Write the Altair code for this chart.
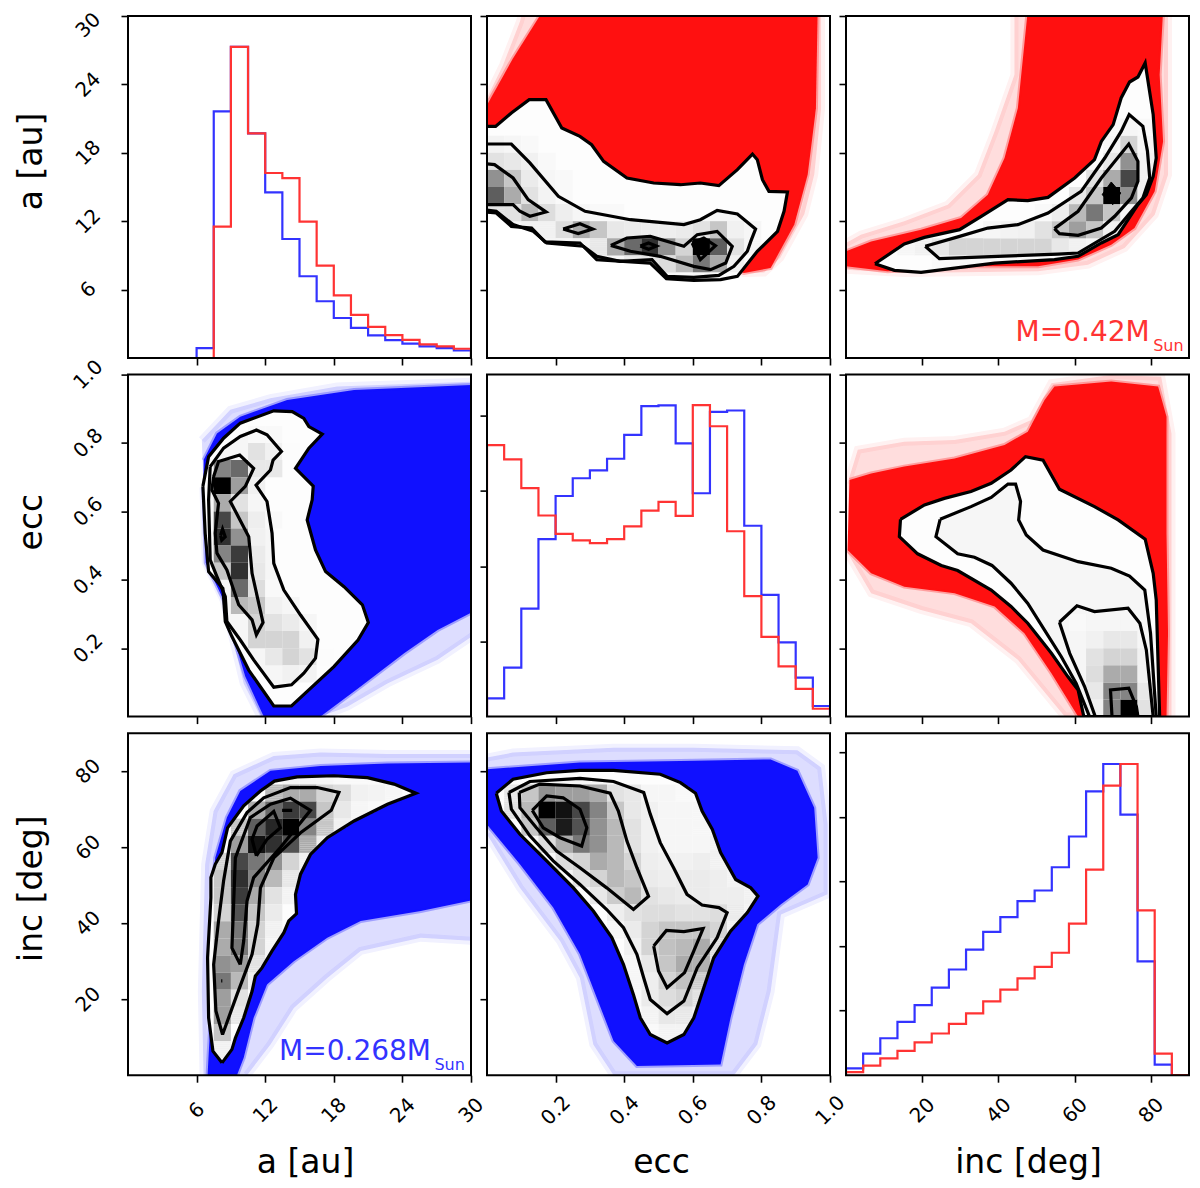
import altair as alt
import pandas as pd

BLUE = "#1010ff"
RED = "#ff1010"
LBLUE = "#3333ff"
LRED = "#ff3333"
FONT = "DejaVu Sans"
W, H = 343, 342

A_DOM = [0, 30]
E_DOM = [0, 1]
I_DOM = [0, 90]
A_TICKS = [6, 12, 18, 24, 30]
E_TICKS = [0.2, 0.4, 0.6, 0.8, 1.0]
I_TICKS = [20, 40, 60, 80]

# ---- histograms (20 bins, normalised height) ----
hist_a_blue = [0, 0, 0, 0, .029, .721, .91, .657, .484, .348, .239, .166, .117, .088, .066, .052, .042, .034, .029, .022]
hist_a_red = [0, 0, 0, 0, 0, .384, .91, .657, .541, .526, .399, .27, .183, .126, .091, .067, .053, .04, .034, .027]
hist_e_blue = [.053, .143, .316, .519, .645, .697, .72, .754, .824, .908, .91, .799, .653, .891, .895, .558, .356, .217, .114, .031]
hist_e_red = [.794, .752, .668, .588, .534, .515, .507, .519, .556, .602, .628, .587, .911, .849, .542, .352, .233, .147, .081, .023]
hist_i_blue = [.02, .063, .108, .156, .205, .256, .309, .367, .419, .462, .509, .54, .608, .698, .83, .91, .762, .333, .031, 0]
hist_i_red = [.009, .028, .049, .071, .096, .122, .15, .181, .216, .25, .283, .317, .358, .443, .601, .847, .91, .482, .063, 0]

# ---- a / inc (blue) ----
ai_fringe = [(6.61, 0), (6.46, 22.1), (6.75, 55.5), (7.49, 69.5), (9.24, 79.2), (12.75, 84), (16.84, 84.9), (22.69, 84.5), (30.5, 84.5), (30.5, 35.3), (25.61, 36.2), (20.35, 32.7), (17.43, 25.6), (14.5, 17.7), (12.46, 8.1), (10.41, 0)]
ai_core = [(6.96, 0), (7.19, 13.3), (7.05, 30.9), (7.63, 57.2), (8.65, 67.8), (9.82, 74.8), (12.46, 80.1), (16.84, 81.4), (22.69, 82), (30.5, 82.3), (30.5, 46.3), (25.61, 43.2), (20.35, 40.6), (17.43, 36.2), (14.5, 30), (12.16, 23.9), (10.99, 15.1), (10.12, 4.6), (9.53, 0)]
ai_c1 = [(8.22, 3.25), (7.43, 6.32), (7.05, 15.1), (6.96, 30.9), (7.25, 46.7), (7.25, 52), (7.63, 55.5), (8.22, 58.6), (8.71, 65.1), (10.12, 70.9), (11.58, 74.8), (12.81, 77.4), (14.8, 78.5), (18.01, 78.8), (20.94, 78.3), (23.27, 76.6), (25.18, 74.2), (22.69, 71.3), (19.77, 66.9), (17.43, 62.5), (15.96, 58.1), (15.09, 52.9), (14.65, 47.6), (14.74, 42.5), (14.06, 40.6), (13.63, 37.5), (12.6, 32.7), (11.73, 28.3), (11.14, 26.1), (10.85, 22.1), (10.12, 15.1), (9.39, 9.8), (9.09, 6.8), (8.22, 3.25)]
ai_c2 = [(8.27, 10.7), (7.69, 16.9), (7.49, 29.1), (7.92, 40.6), (8.36, 51.1), (8.95, 61.6), (10.41, 69.1), (11.87, 73), (14.21, 75.7), (16.55, 75.7), (18.45, 74.4), (17.78, 69.7), (15.09, 63.8), (12.75, 57.2), (11.58, 49.3), (11.35, 39.7), (10.85, 31.8), (9.53, 21.2), (8.27, 10.7)]
ai_c3 = [(9.82, 29.1), (9.09, 33.5), (9.39, 57.2), (10.7, 67.8), (12.46, 71.3), (14.21, 72.9), (15.96, 69.7), (13.33, 59.9), (10.99, 52), (10.41, 45.8), (10.12, 35.3), (9.82, 29.1)]
ai_c4 = [(11.23, 57.7), (10.85, 62.1), (11.29, 65.6), (12.75, 69.4), (13.33, 65.1), (12.16, 62.1), (11.23, 57.7)]
ai_c5 = [(13.48, 69.7), (14.36, 69.7), (13.48, 69.7)]
ai_c6 = [(8.15, 24.8), (8.25, 24.8), (8.15, 24.8)]
ai_cells = [
    (17, 9, [.03, .03, .03, .02, .02, .02]),
    (16, 8, [.25, .3, .3, .15, .12, .05, .04, .03]),
    (15, 7, [.3, .55, .75, .7, .2, .08, .03, .02]),
    (14, 6, [.2, .6, .85, 1.0, .45, .2, .05]),
    (13, 6, [.35, .95, .8, .65, .3, .06]),
    (12, 5, [.15, .7, .5, .4, .15, .05]),
    (11, 5, [.2, .8, .45, .25, .08]),
    (10, 5, [.2, .75, .3, .1, .04]),
    (9, 5, [.15, .65, .2, .07]),
    (8, 5, [.3, .5, .15, .05]),
    (7, 5, [.3, .5, .15, .03]),
    (6, 5, [.4, .35, .1]),
    (5, 5, [.5, .25, .05]),
    (4, 5, [.35, .1]),
    (3, 5, [.35, .08]),
    (2, 5, [.2]),
    (1, 5, [.05]),
]

# ---- ecc / inc (blue) ----
ei_fringe = [(0, 83.6), (.076, 84.9), (.369, 86.2), (.603, 86.2), (.905, 85.5), (.974, 81), (.993, 66), (.993, 47.6), (.857, 42.3), (.827, 22.1), (.788, 8.1), (.72, 0), (.369, 0), (.31, 8.1), (.271, 25.6), (.213, 35.3), (.096, 49.3), (0, 63.4)]
ei_core = [(0, 80.5), (.271, 82.3), (.564, 82.7), (.827, 83.1), (.905, 80.1), (.954, 70.4), (.964, 57.2), (.935, 50.2), (.857, 45), (.788, 39.7), (.749, 29.1), (.71, 15.1), (.681, 2.8), (.437, 2.4), (.369, 9), (.32, 20.4), (.271, 31.8), (.193, 44.1), (.096, 55.5), (0, 66)]
ei_c1 = [(.027, 74.2), (.076, 77.9), (.174, 79.6), (.271, 80.2), (.369, 80.2), (.505, 79.2), (.564, 77), (.608, 74.2), (.627, 69.5), (.657, 64.7), (.681, 58.6), (.725, 51.5), (.769, 49.3), (.79, 47.1), (.759, 42.8), (.71, 37.9), (.661, 30.9), (.632, 23), (.603, 15.1), (.574, 10.7), (.525, 8.5), (.476, 10.7), (.447, 15.1), (.427, 21.2), (.398, 29.1), (.364, 36.2), (.31, 43.2), (.252, 49.3), (.174, 56.4), (.096, 63.4), (.042, 69.5), (.027, 74.2)]
ei_c2 = [(.064, 74.4), (.125, 77.3), (.271, 78.1), (.369, 77.3), (.457, 74.4), (.476, 68.7), (.505, 61.2), (.544, 54.6), (.583, 47.6), (.627, 44.8), (.676, 44.1), (.7, 42.8), (.671, 36.2), (.613, 28.3), (.574, 19.5), (.525, 16.2), (.476, 19.9), (.457, 25.6), (.437, 31.8), (.398, 38.8), (.349, 43.6), (.271, 50.2), (.193, 56.4), (.125, 63), (.071, 70), (.064, 74.4)]
ei_c3 = [(.094, 74.4), (.154, 76.6), (.271, 76.1), (.359, 74.2), (.383, 69.5), (.408, 61.6), (.437, 54.6), (.471, 47.1), (.427, 43.6), (.349, 49.3), (.271, 54.6), (.203, 59), (.144, 65.1), (.096, 70.4), (.094, 74.4)]
ei_c4 = [(.132, 69.7), (.174, 73.5), (.222, 73), (.271, 70), (.291, 65.1), (.276, 60.3), (.213, 62.5), (.164, 65.1), (.132, 69.7)]
ei_c5 = [(.486, 34), (.523, 38.1), (.574, 37.8), (.63, 38.6), (.603, 32.7), (.576, 27), (.525, 23), (.5, 27.4), (.486, 34)]
ei_cells = [
    (16, 1, [.08, .2, .4, .35, .35, .3, .1, .08, .03, .03, .02]),
    (15, 1, [.1, .25, 1.0, .95, .7, .45, .2, .08, .05, .03, .03, .03]),
    (14, 2, [.2, .6, .9, .65, .4, .25, .1, .05, .03, .03, .03, .03]),
    (13, 3, [.12, .3, .5, .4, .25, .1, .05, .03, .03, .03, .05]),
    (12, 4, [.12, .15, .3, .25, .15, .06, .05, .05, .06, .05, .04]),
    (11, 5, [.1, .15, .25, .2, .07, .06, .07, .07, .06, .04, .03]),
    (10, 6, [.08, .18, .25, .1, .08, .07, .07, .06, .06, .05]),
    (9, 7, [.06, .1, .12, .12, .1, .1, .12, .07, .04]),
    (8, 7, [.03, .07, .15, .2, .2, .2, .15, .05]),
    (7, 8, [.05, .15, .22, .25, .3, .12]),
    (6, 8, [.03, .08, .2, .3, .28, .1]),
    (5, 8, [.03, .06, .15, .22, .18, .04]),
    (4, 8, [.02, .07, .12, .15, .1, .02]),
    (3, 9, [.04, .08, .08, .04]),
    (2, 9, [.02, .04, .04, .02]),
]

# ---- a / ecc (blue) ----
ae_fringe = [(6.46, .809), (8.95, .897), (12.46, .931), (18.3, .965), (30.5, .98), (30.5, .244), (27.08, .166), (22.69, .097), (19.18, .029), (16.84, 0), (11.58, 0), (10.12, .097), (8.36, .341), (6.8, .45), (6.6, .67)]
ae_core = [(6.61, .75), (7.78, .828), (9.82, .877), (13.92, .926), (19.77, .955), (30.5, .97), (30.5, .312), (27.08, .253), (24.15, .185), (20.35, .088), (16.84, 0), (11.87, 0), (10.26, .117), (9.39, .214), (8.36, .341), (6.8, .45), (6.6, .67)]
ae_c1 = [(6.55, .674), (7.05, .76), (8.36, .814), (9.82, .858), (12.75, .894), (14.36, .892), (15.38, .872), (15.82, .848), (16.99, .826), (15.82, .785), (14.65, .726), (16.2, .674), (16.11, .634), (15.67, .575), (16.4, .487), (17.28, .424), (18.89, .38), (20.5, .327), (21.02, .275), (20.12, .224), (18.01, .146), (14.3, .031), (12.75, .031), (10.56, .136), (9.09, .234), (8.51, .278), (8.3, .375), (7.05, .424), (6.75, .536), (6.55, .674)]
ae_c2 = [(7.19, .731), (8.36, .785), (9.82, .819), (11.23, .838), (12.16, .824), (13.42, .775), (12.69, .75), (12.46, .721), (11.2, .677), (12.16, .629), (12.6, .536), (12.75, .448), (13.63, .37), (15.09, .297), (16.61, .226), (16.4, .171), (15.38, .127), (14.3, .093), (12.75, .086), (10.99, .166), (9.82, .224), (8.65, .278), (8.51, .351), (7.78, .409), (7.19, .458), (7.05, .634), (7.19, .731)]
ae_c3 = [(7.49, .702), (7.92, .746), (9.77, .765), (10.99, .726), (10.26, .673), (8.95, .629), (10.56, .526), (10.85, .419), (11.81, .275), (11.23, .239), (10.85, .283), (9.68, .327), (8.65, .429), (7.78, .478), (7.63, .536), (7.92, .624), (7.34, .663), (7.49, .702)]
ae_c4 = [(8.1, .53), (8.27, .548), (8.5, .526), (8.2, .516), (8.1, .53)]
ae_cells = [
    (16, 7, [.02, .02]),
    (15, 7, [.1, .05, .01]),
    (14, 5, [.45, .55, .08, .08]),
    (13, 5, [1.0, .35, .05]),
    (12, 5, [.3, .1, .03]),
    (11, 5, [.7, .2, .06, .02]),
    (10, 5, [.8, .4, .05]),
    (9, 5, [.45, .75, .07]),
    (8, 5, [.2, .8, .08]),
    (7, 6, [.55, .12, .02]),
    (6, 6, [.25, .2, .05, .03]),
    (5, 7, [.15, .1, .07, .03]),
    (4, 7, [.15, .15, .15, .05]),
    (3, 8, [.08, .15, .1, .01]),
    (2, 9, [.05, .04]),
]

# ---- inc / ecc (red) ----
ie_fringe = [(.4, .682), (3.1, .78), (15.3, .804), (28.5, .809), (41.6, .833), (48.6, .867), (53.9, .975), (69.6, .999), (82.7, .994), (85.4, .828), (85.4, .244), (85.4, 0), (57.4, 0), (45.1, .166), (32.8, .273), (19.7, .312), (6.6, .361), (.4, .478)]
ie_core = [(.9, .692), (6.6, .711), (15.3, .731), (28.5, .755), (41.6, .794), (47.7, .833), (52.1, .926), (54.7, .965), (69.6, .98), (81.9, .965), (84.1, .877), (84.1, .536), (84.5, .244), (84.1, 0), (60.9, 0), (53.9, .127), (46.8, .244), (39, .322), (28.5, .361), (15.3, .38), (6.6, .419), (.4, .487)]
ie_c1 = [(14.3, .577), (14, .526), (18.8, .476), (25, .442), (29.3, .427), (38.1, .37), (43.3, .322), (47.7, .273), (53.9, .185), (58.2, .117), (60.9, .078), (62.4, 0), (82.3, 0), (81.4, .341), (80.6, .419), (78.5, .519), (71.4, .575), (65.2, .614), (56, .665), (51.7, .75), (47.1, .76), (43.3, .721), (38.1, .682), (32.8, .658), (25.8, .638), (20.6, .619), (14.3, .577)]
ie_c2 = [(24.7, .577), (23.6, .526), (29.3, .476), (33.7, .466), (38.3, .442), (43.3, .39), (47.7, .331), (52.1, .253), (56.5, .175), (60.4, .097), (63.9, 0), (81.4, 0), (79.9, .244), (78.4, .37), (74.4, .411), (69.6, .434), (60.9, .453), (51.7, .487), (47.3, .531), (45.3, .575), (45.8, .629), (44.5, .68), (42.5, .68), (38.1, .641), (32.8, .614), (24.7, .577)]
ie_c3 = [(56, .276), (60.6, .324), (65.2, .307), (74, .317), (77.1, .273), (78.8, .195), (80.6, 0), (65.4, 0), (62.6, .088), (58.7, .185), (56, .276)]
ie_c4 = [(69.8, 0), (69.4, .078), (74.2, .083), (76.2, .029), (76.6, 0)]
ie_cells = [
    (0, 13, [.03, .05, .45, 1.0, .1]),
    (1, 13, [.03, .08, .45, .45, .08]),
    (2, 13, [.03, .12, .3, .3, .05]),
    (3, 13, [.03, .1, .15, .15, .05]),
    (4, 13, [.03, .05, .08, .08, .03]),
    (5, 13, [.02, .03, .03, .03]),
]

# ---- ecc / a (red) ----
ea_fringe = [(0, 22.8), (.047, 25.7), (.096, 29.5), (.105, 30.5), (.974, 30.5), (.974, 21.9), (.954, 16.1), (.925, 12.6), (.855, 8.8), (.808, 7.5), (.749, 7.46), (.6, 9), (0, 18)]
ea_core = [(0, 22.2), (.076, 26.3), (.164, 30.5), (.964, 30.5), (.959, 21.9), (.935, 16.1), (.896, 11.7), (.827, 7.9), (.749, 7.46), (.6, 9), (0, 18)]
ea_c1 = [(-.01, 20.32), (.025, 20.32), (.071, 21.49), (.123, 22.66), (.172, 22.66), (.218, 20.18), (.271, 19.44), (.305, 18.71), (.34, 17.25), (.408, 15.79), (.486, 15.35), (.564, 15.2), (.622, 15.35), (.676, 15.12), (.73, 16.52), (.774, 17.89), (.788, 17.4), (.803, 15.64), (.822, 14.62), (.876, 14.56), (.866, 12.87), (.847, 11.11), (.788, 9.36), (.73, 7.16), (.681, 6.87), (.603, 6.81), (.523, 6.96), (.476, 8.33), (.32, 8.63), (.271, 10.09), (.169, 10.18), (.13, 11.4), (.071, 11.55), (.027, 12.72), (-.01, 12.81), (-.01, 20.32)]
ea_c2 = [(-.01, 18.77), (.071, 18.77), (.125, 17.11), (.208, 14.18), (.286, 12.87), (.418, 12.13), (.574, 11.7), (.622, 12.13), (.671, 12.95), (.73, 12.63), (.783, 11.32), (.769, 10.23), (.759, 9.36), (.72, 8.04), (.676, 7.25), (.603, 7.08), (.525, 7.16), (.481, 8.63), (.388, 8.48), (.32, 8.92), (.281, 9.8), (.174, 10.09), (.135, 11.11), (.076, 11.7), (.027, 12.87), (-.01, 13.01), (-.01, 18.77)]
ea_c3 = [(-.01, 17.05), (.022, 16.96), (.076, 15.79), (.12, 13.89), (.172, 12.81), (.125, 12.43), (.096, 12.87), (.076, 13.45), (.027, 13.45), (-.01, 13.45), (-.01, 17.05)]
ea_c4 = [(.361, 9.88), (.408, 10.53), (.476, 10.67), (.574, 9.8), (.613, 10.82), (.671, 11.11), (.715, 9.8), (.696, 8.33), (.652, 7.75), (.603, 8.04), (.505, 8.92), (.418, 9.36), (.361, 9.88)]
ea_c5 = [(.222, 11.32), (.271, 11.78), (.308, 11.32), (.266, 10.91), (.222, 11.32)]
ea_c6 = [(.447, 9.82), (.471, 10.09), (.494, 9.82), (.471, 9.53), (.447, 9.82)]
ea_c7 = [(.598, 10.09), (.632, 10.53), (.666, 9.85), (.622, 8.63), (.598, 10.09)]
ea_cells = [
    (12, 0, [.04, .03, .02]),
    (11, 0, [.1, .08, .05, .02]),
    (10, 0, [.4, .2, .07, .03, .02]),
    (9, 0, [.6, .3, .1, .04, .02]),
    (8, 0, [.1, .1, .25, .12, .06, .03, .02, .02]),
    (7, 2, [.05, .05, .12, .3, .2, .08, .07, .06, .06, .07, .1, .2, .05, .03]),
    (6, 4, [.03, .04, .08, .3, .55, .8, .4, .15, 1.0, .6, .1, .03]),
    (5, 8, [.08, .1, .12, .25, .5, .3, .05]),
    (4, 11, [.02, .03, .02, .01]),
]

# ---- inc / a (red) ----
ia_fringe = [(0, 10.09), (3.9, 10.82), (15.3, 11.99), (26.7, 13.45), (34.6, 16.08), (39, 19.88), (44.2, 24.85), (44.2, 30.5), (84.5, 30.5), (84.5, 21.93), (84.5, 16.08), (81, 12.57), (73.1, 9.65), (63.5, 8.19), (50.4, 7.6), (15.3, 7.46), (0, 7.75)]
ia_core = [(0, 9.36), (6.6, 10.23), (19.7, 11.26), (30.2, 12.28), (37.2, 14.33), (41.6, 17.54), (45.1, 21.93), (47.7, 30.5), (83.2, 30.5), (82.3, 24.85), (83.2, 19), (81, 14.62), (75.7, 11.4), (69.6, 9.94), (60.9, 8.63), (50.4, 8.04), (32.8, 8.04), (10.9, 7.6), (0, 8.04)]
ia_c1 = [(7.6, 8.27), (15.3, 10), (20.6, 10.58), (29.8, 11.26), (35.5, 12.43), (42.5, 13.89), (47.7, 13.8), (53, 14.09), (60, 15.79), (65.2, 17.4), (67, 19), (70.1, 20.47), (72.2, 22.81), (74.4, 24.21), (76.6, 24.65), (78.5, 25.88), (80.6, 21.35), (81.4, 17.54), (80.6, 15.94), (78.8, 14.33), (76.6, 13.45), (71.4, 10.82), (67, 10.09), (60.9, 8.92), (54.7, 8.63), (39, 8.33), (28.5, 7.89), (19.7, 7.51), (12.7, 7.69), (7.6, 8.27)]
ia_c2 = [(20.8, 9.8), (29.8, 10.67), (37.2, 11.4), (45.1, 11.7), (53, 12.72), (61.7, 14.62), (67.9, 17.54), (72.2, 19.88), (74.3, 21.35), (77.9, 20.32), (79.1, 18.13), (79.7, 15.79), (77.9, 14.04), (74.9, 12.87), (70.5, 11.11), (60.9, 9.21), (55.6, 9.12), (39.8, 8.92), (24.5, 8.71), (20.8, 9.8)]
ia_c3 = [(54.7, 11.35), (60.9, 12.87), (67, 15.79), (74.2, 18.77), (76.6, 17.25), (76.6, 15.5), (74.9, 14.04), (70.5, 12.43), (67, 11.4), (60.9, 10.76), (56, 10.91), (54.7, 11.35)]
ia_blob = [(69.6, 15.44), (72.1, 14.47), (70, 13.45), (67.2, 14.33), (69.6, 15.44)]
ia_cells = [
    (5, 5, [.02, .02, .02, .02, .02, .02, .02, .02]),
    (6, 3, [.03, .05, .08, .15, .15, .15, .15, .15, .15, .08, .05, .03]),
    (7, 8, [.03, .04, .05, .1, .2, .35, .2, .05, .02]),
    (8, 11, [.02, .06, .25, .5, .2, .03]),
    (9, 13, [.08, .2, 1.0, .4, .05]),
    (10, 14, [.1, .3, .7, .05]),
    (11, 15, [.08, .4, .04]),
    (12, 15, [.03, .15, .03]),
    (13, 15, [.02, .03, .02]),
]

# ---- annotations ----
note_red = ("M=0.42M", "Sun", 79.7, 1.52, 80.6, 0.64)
note_blue = ("M=0.268M", "Sun", 26.5, 4.1, 26.8, 1.5)


def polys(rings):
    rows = []
    for c, ring in enumerate(rings):
        for o, (x, y) in enumerate(ring):
            rows.append({"x": x, "y": y, "c": c, "o": o})
    return pd.DataFrame(rows)


def inside(px, py, ring):
    hit = False
    n = len(ring)
    for k in range(n):
        x0, y0 = ring[k]
        x1, y1 = ring[(k + 1) % n]
        if (y0 > py) != (y1 > py):
            if px < x0 + (py - y0) * (x1 - x0) / (y1 - y0):
                hit = not hit
    return hit


def cells(table, xdom, ydom, ring, sub=8):
    """Histogram cells, cut to the part that lies inside the outermost contour."""
    dx = (xdom[1] - xdom[0]) / 20
    dy = (ydom[1] - ydom[0]) / 20
    rows = []
    for j, i0, vals in table:
        for k, v in enumerate(vals):
            i = i0 + k
            flags = [[inside((i + (a + .5) / sub) * dx, (j + (b + .5) / sub) * dy, ring) for a in range(sub)]
                     for b in range(sub)]
            if all(all(r) for r in flags):
                rows.append({"x": i * dx, "x2": (i + 1) * dx, "y": j * dy, "y2": (j + 1) * dy, "v": v})
                continue
            for b, r in enumerate(flags):
                a = 0
                while a < sub:
                    if r[a]:
                        e = a
                        while e + 1 < sub and r[e + 1]:
                            e += 1
                        rows.append({"x": (i + a / sub) * dx, "x2": (i + (e + 1) / sub) * dx,
                                     "y": (j + b / sub) * dy, "y2": (j + (b + 1) / sub) * dy, "v": v})
                        a = e + 1
                    else:
                        a += 1
    return pd.DataFrame(rows)


def axis(ticks, title, labels, orient, expr=None, title_at=None, top_shift=False):
    kw = dict(values=ticks, grid=False, domain=False, tickSize=7, tickWidth=1.6, tickColor="black",
              labels=labels, labelFont=FONT, labelFontSize=20, labelColor="black", labelAngle=315,
              labelOverlap=False, labelFlush=False, titleFont=FONT, titleFontSize=33, titleFontWeight="normal",
              titleColor="black", title=title)
    if orient == "x":
        kw.update(labelAlign="center", labelBaseline="middle", labelPadding=28)
        if title_at is not None:
            kw.update(titleX=title_at, titleY=97, titleAlign="center", titleBaseline="alphabetic")
    else:
        kw.update(labelAlign="center", labelBaseline="middle", labelPadding=33)
        if title_at is not None:
            kw.update(titleX=-87, titleY=title_at, titleAlign="center", titleBaseline="alphabetic")
    if expr:
        kw["labelExpr"] = expr
    if top_shift:
        kw["labelOffset"] = {"condition": {"test": "datum.value >= 1", "value": 9}, "value": 0}
    return alt.Axis(**kw)


def panel(layers, xdom, ydom, xaxis, yaxis):
    out = []
    sx = alt.Scale(domain=xdom, nice=False, zero=False)
    sy = alt.Scale(domain=ydom, nice=False, zero=False)
    X = alt.X("x:Q", scale=sx, axis=xaxis)
    Y = alt.Y("y:Q", scale=sy, axis=yaxis)
    for kind, df, props in layers:
        if kind == "line":
            m = alt.Chart(df).mark_line(clip=True, **props).encode(x=X, y=Y, order="o:Q", detail="c:N")
        elif kind == "rect":
            m = alt.Chart(df).mark_rect(clip=True).encode(
                x=X, x2="x2:Q", y=Y, y2="y2:Q",
                color=alt.Color("v:Q", legend=None,
                                scale=alt.Scale(domain=[0, 1], range=["#ffffff", "#000000"])))
        else:
            m = alt.Chart(df).mark_text(**props).encode(x=X, y=Y, text="t:N")
        out.append(m)
    frame = alt.Chart(pd.DataFrame({"f": [0]})).mark_rect(fill=None, stroke="black", strokeWidth=2).encode(
        x=alt.value(0), x2=alt.value(W), y=alt.value(0), y2=alt.value(H))
    out.append(frame)
    return alt.layer(*out).properties(width=W, height=H)


def scatter_panel(fringe, core, color, rings, table, xdom, ydom, xaxis, yaxis, blobs=None, note=None):
    layers = [
        ("line", polys([fringe]), dict(fill=color, stroke=color, fillOpacity=.14, strokeOpacity=.06, strokeWidth=8)),
        ("line", polys([core]), dict(fill=color, stroke=color, fillOpacity=1, strokeOpacity=.3, strokeWidth=4)),
        ("line", polys(rings[:1]), dict(fill="#fdfdfd", strokeWidth=0, stroke="#fdfdfd")),
        ("line", polys(rings[1:2]), dict(fill="#f6f6f6", strokeWidth=0, stroke="#f6f6f6")),
        ("rect", cells(table, xdom, ydom, rings[0]), {}),
    ]
    if blobs:
        layers.append(("line", polys(blobs), dict(fill="black", stroke="black", strokeWidth=1)))
    layers.append(("line", polys(rings), dict(stroke="black", strokeWidth=3.2, strokeJoin="miter", strokeMiterLimit=4)))
    if note:
        label, sub, x1, y1, x2, y2 = note
        col = LRED if color == RED else LBLUE
        layers.append(("text", pd.DataFrame({"x": [x1], "y": [y1], "t": [label]}),
                       dict(font=FONT, fontSize=28, color=col, align="right", baseline="alphabetic")))
        layers.append(("text", pd.DataFrame({"x": [x2], "y": [y2], "t": [sub]}),
                       dict(font=FONT, fontSize=16, color=col, align="left", baseline="alphabetic")))
    return panel(layers, xdom, ydom, xaxis, yaxis)


def hist(blue, red, xdom, xaxis, yaxis):
    n = len(blue)
    step = (xdom[1] - xdom[0]) / n
    rings = []
    for vals in (blue, red):
        ring = [(xdom[0], 0)]
        for i, v in enumerate(vals):
            ring.append((xdom[0] + i * step, v))
        ring.append((xdom[1], vals[-1]))
        ring.append((xdom[1], 0))
        rings.append(ring)
    layers = [
        ("line", polys(rings[:1]), dict(stroke=LBLUE, strokeWidth=2.2, interpolate="step-after")),
        ("line", polys(rings[1:]), dict(stroke=LRED, strokeWidth=2.2, interpolate="step-after")),
    ]
    return panel(layers, xdom, [0, 1], xaxis, yaxis)


HY1 = [.2, .4, .6, .8, 1.0]
HY2 = [.22, .44, .66, .88]
HY3 = [.189, .378, .566, .754, .943]

p11 = hist(hist_a_blue, hist_a_red, A_DOM, axis(A_TICKS, None, False, "x"),
           axis(HY1, "a [au]", True, "y", "round(datum.value*30)", title_at=145, top_shift=True))
p12 = scatter_panel(ea_fringe, ea_core, RED, [ea_c1, ea_c2, ea_c3, ea_c4, ea_c5, ea_c6, ea_c7], ea_cells, E_DOM, A_DOM,
                    axis(E_TICKS, None, False, "x"), axis(A_TICKS, None, False, "y"))
p13 = scatter_panel(ia_fringe, ia_core, RED, [ia_c1, ia_c2, ia_c3], ia_cells, I_DOM, A_DOM,
                    axis(I_TICKS, None, False, "x"), axis(A_TICKS, None, False, "y"), blobs=[ia_blob], note=note_red)
p21 = scatter_panel(ae_fringe, ae_core, BLUE, [ae_c1, ae_c2, ae_c3, ae_c4], ae_cells, A_DOM, E_DOM,
                    axis(A_TICKS, None, False, "x"), axis(E_TICKS, "ecc", True, "y", title_at=147))
p22 = hist(hist_e_blue, hist_e_red, E_DOM, axis(E_TICKS, None, False, "x"), axis(HY2, None, False, "y"))
p23 = scatter_panel(ie_fringe, ie_core, RED, [ie_c1, ie_c2, ie_c3, ie_c4], ie_cells, I_DOM, E_DOM,
                    axis(I_TICKS, None, False, "x"), axis(E_TICKS, None, False, "y"))
p31 = scatter_panel(ai_fringe, ai_core, BLUE, [ai_c1, ai_c2, ai_c3, ai_c4, ai_c5, ai_c6], ai_cells, A_DOM, I_DOM,
                    axis(A_TICKS, "a [au]", True, "x", title_at=177), axis(I_TICKS, "inc [deg]", True, "y", title_at=155),
                    note=note_blue)
p32 = scatter_panel(ei_fringe, ei_core, BLUE, [ei_c1, ei_c2, ei_c3, ei_c4, ei_c5], ei_cells, E_DOM, I_DOM,
                    axis(E_TICKS, "ecc", True, "x", title_at=174), axis(I_TICKS, None, False, "y"))
p33 = hist(hist_i_blue, hist_i_red, I_DOM, axis(I_TICKS, "inc [deg]", True, "x", title_at=182),
           axis(HY3, None, False, "y"))

chart = alt.concat(p11, p12, p13, p21, p22, p23, p31, p32, p33, columns=3, spacing={"column": 16, "row": 16.6},
                   bounds="flush").properties(
    padding={"left": 6, "top": 0, "right": 0, "bottom": 0}, background="white"
).configure_view(stroke=None)

chart.save("out.html", embed_options={"renderer": "svg", "actions": False})
